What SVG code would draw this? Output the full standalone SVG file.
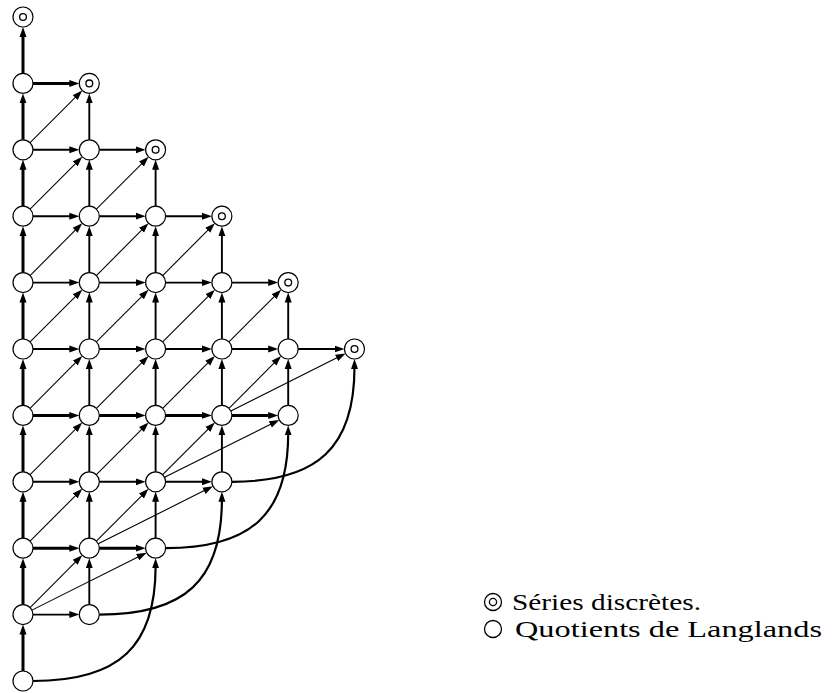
<svg xmlns="http://www.w3.org/2000/svg" width="832" height="693" viewBox="0 0 832 693">
<style>
.n{fill:#fff;stroke:#000;stroke-width:1.2}
.i{fill:none;stroke:#000;stroke-width:1.3}
#edges line,#edges path{stroke:#000;fill:none;marker-end:url(#a)}
.e{stroke-width:1.9}
.t{stroke-width:3}
.d{stroke-width:1.1}
.c{stroke-width:2.2}
.lg{font-family:"Liberation Serif","Times New Roman",serif;font-size:24px;fill:#000}
</style>
<defs>
<marker id="a" markerUnits="userSpaceOnUse" viewBox="0 0 11 8" markerWidth="11" markerHeight="8" refX="2" refY="4" orient="auto">
<path d="M0,0.5 L10,4 L0,7.5z" fill="#000"/>
</marker>
</defs>
<g id="edges">
<!-- col0 verticals (thick) -->
<line class="t" x1="23" y1="73.4" x2="23" y2="35"/>
<line class="t" x1="23" y1="139.8" x2="23" y2="101.4"/>
<line class="t" x1="23" y1="206.2" x2="23" y2="167.8"/>
<line class="t" x1="23" y1="272.6" x2="23" y2="234.2"/>
<line class="t" x1="23" y1="339" x2="23" y2="300.6"/>
<line class="t" x1="23" y1="405.4" x2="23" y2="367"/>
<line class="t" x1="23" y1="471.8" x2="23" y2="433.4"/>
<line class="t" x1="23" y1="538.2" x2="23" y2="499.8"/>
<line class="t" x1="23" y1="604.6" x2="23" y2="566.2"/>
<line class="t" x1="23" y1="671" x2="23" y2="632.6"/>
<!-- col1 verticals -->
<line class="e" x1="89.3" y1="139.8" x2="89.3" y2="101.4"/>
<line class="e" x1="89.3" y1="206.2" x2="89.3" y2="167.8"/>
<line class="e" x1="89.3" y1="272.6" x2="89.3" y2="234.2"/>
<line class="e" x1="89.3" y1="339" x2="89.3" y2="300.6"/>
<line class="e" x1="89.3" y1="405.4" x2="89.3" y2="367"/>
<line class="e" x1="89.3" y1="471.8" x2="89.3" y2="433.4"/>
<line class="e" x1="89.3" y1="538.2" x2="89.3" y2="499.8"/>
<line class="e" x1="89.3" y1="604.6" x2="89.3" y2="566.2"/>
<!-- col2 verticals -->
<line class="e" x1="155.6" y1="206.2" x2="155.6" y2="167.8"/>
<line class="e" x1="155.6" y1="272.6" x2="155.6" y2="234.2"/>
<line class="e" x1="155.6" y1="339" x2="155.6" y2="300.6"/>
<line class="e" x1="155.6" y1="405.4" x2="155.6" y2="367"/>
<line class="e" x1="155.6" y1="471.8" x2="155.6" y2="433.4"/>
<line class="e" x1="155.6" y1="538.2" x2="155.6" y2="499.8"/>
<!-- col3 verticals -->
<line class="e" x1="221.9" y1="272.6" x2="221.9" y2="234.2"/>
<line class="e" x1="221.9" y1="339" x2="221.9" y2="300.6"/>
<line class="e" x1="221.9" y1="405.4" x2="221.9" y2="367"/>
<line class="e" x1="221.9" y1="471.8" x2="221.9" y2="433.4"/>
<!-- col4 verticals -->
<line class="e" x1="288.2" y1="339" x2="288.2" y2="300.6"/>
<line class="e" x1="288.2" y1="405.4" x2="288.2" y2="367"/>
<!-- horizontals col0->col1 -->
<line class="t" x1="33" y1="83.4" x2="71.3" y2="83.4"/>
<line class="e" x1="33" y1="149.8" x2="71.3" y2="149.8"/>
<line class="e" x1="33" y1="216.2" x2="71.3" y2="216.2"/>
<line class="e" x1="33" y1="282.6" x2="71.3" y2="282.6"/>
<line class="e" x1="33" y1="349" x2="71.3" y2="349"/>
<line class="t" x1="33" y1="415.4" x2="71.3" y2="415.4"/>
<line class="e" x1="33" y1="481.8" x2="71.3" y2="481.8"/>
<line class="t" x1="33" y1="548.2" x2="71.3" y2="548.2"/>
<line class="e" x1="33" y1="614.6" x2="71.3" y2="614.6"/>
<!-- horizontals col1->col2 -->
<line class="e" x1="99.3" y1="149.8" x2="137.6" y2="149.8"/>
<line class="e" x1="99.3" y1="216.2" x2="137.6" y2="216.2"/>
<line class="e" x1="99.3" y1="282.6" x2="137.6" y2="282.6"/>
<line class="e" x1="99.3" y1="349" x2="137.6" y2="349"/>
<line class="t" x1="99.3" y1="415.4" x2="137.6" y2="415.4"/>
<line class="e" x1="99.3" y1="481.8" x2="137.6" y2="481.8"/>
<line class="t" x1="99.3" y1="548.2" x2="137.6" y2="548.2"/>
<!-- horizontals col2->col3 -->
<line class="e" x1="165.6" y1="216.2" x2="203.9" y2="216.2"/>
<line class="e" x1="165.6" y1="282.6" x2="203.9" y2="282.6"/>
<line class="e" x1="165.6" y1="349" x2="203.9" y2="349"/>
<line class="t" x1="165.6" y1="415.4" x2="203.9" y2="415.4"/>
<line class="e" x1="165.6" y1="481.8" x2="203.9" y2="481.8"/>
<!-- horizontals col3->col4 -->
<line class="e" x1="231.9" y1="282.6" x2="270.2" y2="282.6"/>
<line class="e" x1="231.9" y1="349" x2="270.2" y2="349"/>
<line class="t" x1="231.9" y1="415.4" x2="270.2" y2="415.4"/>
<!-- horizontal col4->col5 -->
<line class="e" x1="298.2" y1="349" x2="336.5" y2="349"/>
<!-- diagonals col0->col1 -->
<line class="d" x1="30.07" y1="142.73" x2="76.57" y2="96.13"/>
<line class="d" x1="30.07" y1="209.13" x2="76.57" y2="162.53"/>
<line class="d" x1="30.07" y1="275.53" x2="76.57" y2="228.93"/>
<line class="d" x1="30.07" y1="341.93" x2="76.57" y2="295.33"/>
<line class="d" x1="30.07" y1="408.33" x2="76.57" y2="361.73"/>
<line class="d" x1="30.07" y1="474.73" x2="76.57" y2="428.13"/>
<line class="d" x1="30.07" y1="541.13" x2="76.57" y2="494.53"/>
<line class="d" x1="30.07" y1="607.53" x2="76.57" y2="560.93"/>
<!-- diagonals col1->col2 -->
<line class="d" x1="96.37" y1="209.13" x2="142.87" y2="162.53"/>
<line class="d" x1="96.37" y1="275.53" x2="142.87" y2="228.93"/>
<line class="d" x1="96.37" y1="341.93" x2="142.87" y2="295.33"/>
<line class="d" x1="96.37" y1="408.33" x2="142.87" y2="361.73"/>
<line class="d" x1="96.37" y1="474.73" x2="142.87" y2="428.13"/>
<line class="d" x1="96.37" y1="541.13" x2="142.87" y2="494.53"/>
<!-- diagonals col2->col3 -->
<line class="d" x1="162.67" y1="275.53" x2="209.17" y2="228.93"/>
<line class="d" x1="162.67" y1="341.93" x2="209.17" y2="295.33"/>
<line class="d" x1="162.67" y1="408.33" x2="209.17" y2="361.73"/>
<line class="d" x1="162.67" y1="474.73" x2="209.17" y2="428.13"/>
<!-- diagonals col3->col4 -->
<line class="d" x1="228.97" y1="341.93" x2="275.47" y2="295.33"/>
<line class="d" x1="228.97" y1="408.33" x2="275.47" y2="361.73"/>
<!-- long diagonals -->
<line class="d" x1="31.94" y1="610.12" x2="139.51" y2="556.26"/>
<line class="d" x1="98.24" y1="543.72" x2="205.81" y2="489.86"/>
<line class="d" x1="164.54" y1="477.32" x2="272.11" y2="423.46"/>
<line class="d" x1="230.84" y1="410.92" x2="338.41" y2="357.06"/>
<!-- curves -->
<path class="c" d="M33,681 C118.8,681 155.6,646.6 155.6,566.2"/>
<path class="c" d="M99.3,614.6 C185.1,614.6 221.9,580.2 221.9,499.8"/>
<path class="c" d="M165.6,548.2 C251.4,548.2 288.2,513.8 288.2,433.4"/>
<path class="c" d="M231.9,481.8 C317.7,481.8 354.5,447.4 354.5,367"/>
</g>
<!-- nodes -->
<g id="n0-0"><circle class="n" cx="23" cy="17" r="10"/><circle class="i" cx="23" cy="17" r="3.4"/></g>
<g id="n0-1"><circle class="n" cx="23" cy="83.4" r="10"/></g>
<g id="n0-2"><circle class="n" cx="23" cy="149.8" r="10"/></g>
<g id="n0-3"><circle class="n" cx="23" cy="216.2" r="10"/></g>
<g id="n0-4"><circle class="n" cx="23" cy="282.6" r="10"/></g>
<g id="n0-5"><circle class="n" cx="23" cy="349" r="10"/></g>
<g id="n0-6"><circle class="n" cx="23" cy="415.4" r="10"/></g>
<g id="n0-7"><circle class="n" cx="23" cy="481.8" r="10"/></g>
<g id="n0-8"><circle class="n" cx="23" cy="548.2" r="10"/></g>
<g id="n0-9"><circle class="n" cx="23" cy="614.6" r="10"/></g>
<g id="n0-10"><circle class="n" cx="23" cy="681" r="10"/></g>
<g id="n1-1"><circle class="n" cx="89.3" cy="83.4" r="10"/><circle class="i" cx="89.3" cy="83.4" r="3.4"/></g>
<g id="n1-2"><circle class="n" cx="89.3" cy="149.8" r="10"/></g>
<g id="n1-3"><circle class="n" cx="89.3" cy="216.2" r="10"/></g>
<g id="n1-4"><circle class="n" cx="89.3" cy="282.6" r="10"/></g>
<g id="n1-5"><circle class="n" cx="89.3" cy="349" r="10"/></g>
<g id="n1-6"><circle class="n" cx="89.3" cy="415.4" r="10"/></g>
<g id="n1-7"><circle class="n" cx="89.3" cy="481.8" r="10"/></g>
<g id="n1-8"><circle class="n" cx="89.3" cy="548.2" r="10"/></g>
<g id="n1-9"><circle class="n" cx="89.3" cy="614.6" r="10"/></g>
<g id="n2-2"><circle class="n" cx="155.6" cy="149.8" r="10"/><circle class="i" cx="155.6" cy="149.8" r="3.4"/></g>
<g id="n2-3"><circle class="n" cx="155.6" cy="216.2" r="10"/></g>
<g id="n2-4"><circle class="n" cx="155.6" cy="282.6" r="10"/></g>
<g id="n2-5"><circle class="n" cx="155.6" cy="349" r="10"/></g>
<g id="n2-6"><circle class="n" cx="155.6" cy="415.4" r="10"/></g>
<g id="n2-7"><circle class="n" cx="155.6" cy="481.8" r="10"/></g>
<g id="n2-8"><circle class="n" cx="155.6" cy="548.2" r="10"/></g>
<g id="n3-3"><circle class="n" cx="221.9" cy="216.2" r="10"/><circle class="i" cx="221.9" cy="216.2" r="3.4"/></g>
<g id="n3-4"><circle class="n" cx="221.9" cy="282.6" r="10"/></g>
<g id="n3-5"><circle class="n" cx="221.9" cy="349" r="10"/></g>
<g id="n3-6"><circle class="n" cx="221.9" cy="415.4" r="10"/></g>
<g id="n3-7"><circle class="n" cx="221.9" cy="481.8" r="10"/></g>
<g id="n4-4"><circle class="n" cx="288.2" cy="282.6" r="10"/><circle class="i" cx="288.2" cy="282.6" r="3.4"/></g>
<g id="n4-5"><circle class="n" cx="288.2" cy="349" r="10"/></g>
<g id="n4-6"><circle class="n" cx="288.2" cy="415.4" r="10"/></g>
<g id="n5-5"><circle class="n" cx="354.5" cy="349" r="10"/><circle class="i" cx="354.5" cy="349" r="3.4"/></g>
<!-- legend -->
<g id="legend">
<circle class="i" cx="493" cy="602" r="8.5"/><circle class="i" cx="493" cy="602" r="3.6"/>
<text class="lg" x="512" y="610" textLength="189" lengthAdjust="spacingAndGlyphs">Séries discrètes.</text>
<circle class="i" cx="493" cy="629" r="8.5"/>
<text class="lg" x="515" y="637" textLength="307" lengthAdjust="spacingAndGlyphs">Quotients de Langlands</text>
</g>
</svg>
